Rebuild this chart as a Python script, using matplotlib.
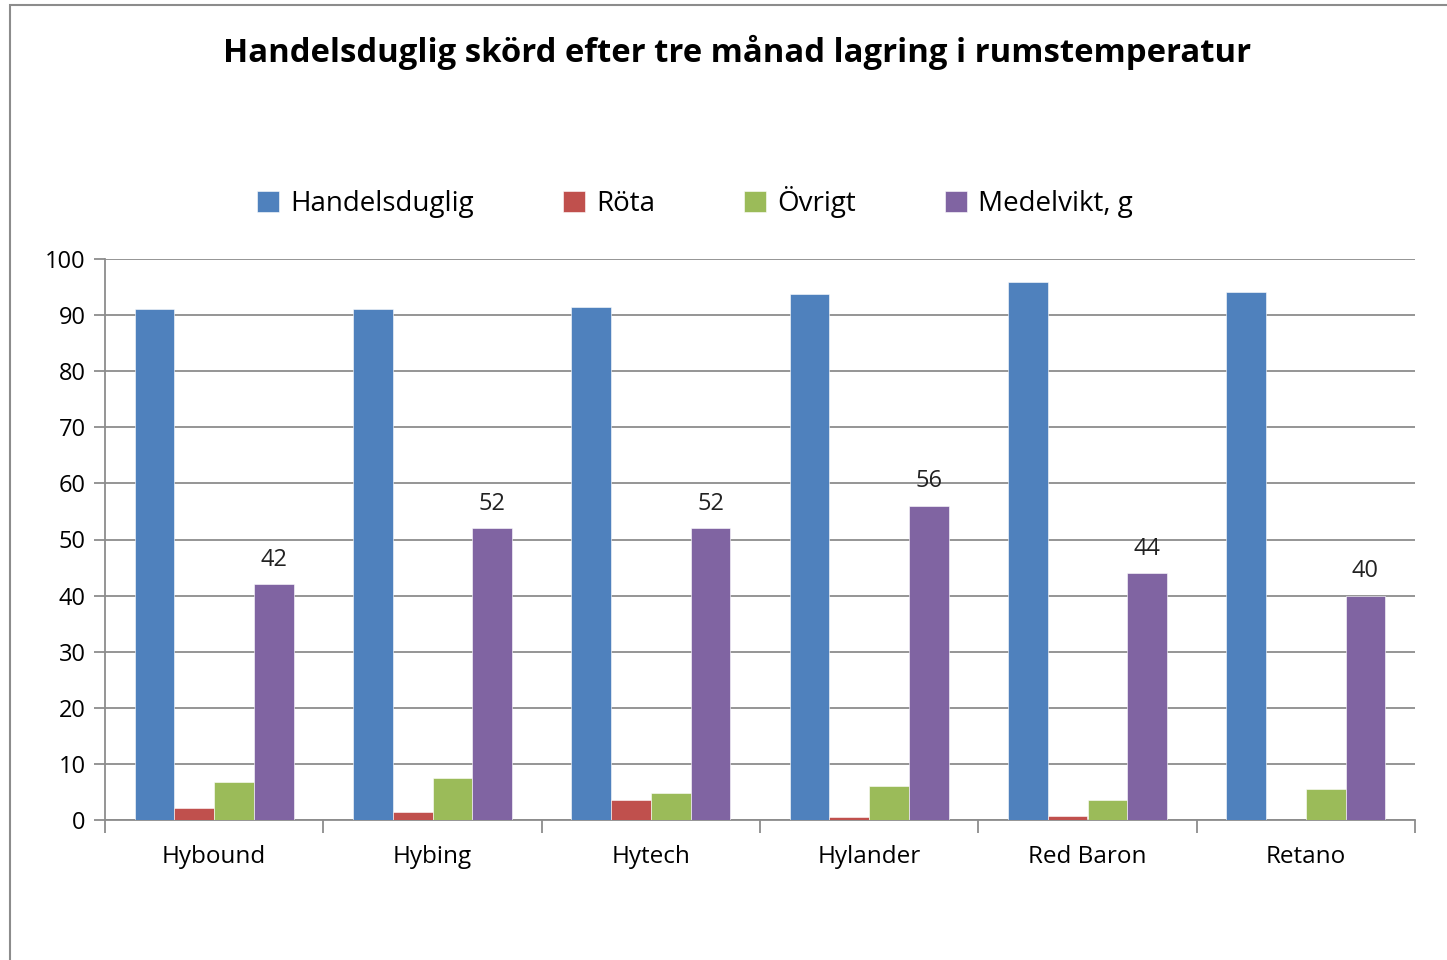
import matplotlib
matplotlib.use("Agg")
import matplotlib.pyplot as plt
import numpy as np
from matplotlib.patches import Rectangle

categories = ["Hybound", "Hybing", "Hytech", "Hylander", "Red Baron", "Retano"]
handelsduglig = [91.0, 91.0, 91.5, 93.8, 95.9, 94.2]
rota = [2.1, 1.4, 3.6, 0.5, 0.7, 0.0]
ovrigt = [6.7, 7.4, 4.8, 6.0, 3.6, 5.5]
medelvikt = [42, 52, 52, 56, 44, 40]
series_names = ["Handelsduglig", "Röta", "Övrigt", "Medelvikt, g"]
colors = ["#4F81BD", "#C0504D", "#9BBB59", "#8064A2"]
title = "Handelsduglig skörd efter tre månad lagring i rumstemperatur"

plt.rcParams['font.family'] = ['Open Sans', 'DejaVu Sans']

fig = plt.figure(figsize=(14.47, 9.6), dpi=100)
W, H = 1447, 960
ax = fig.add_axes([105 / W, 1 - 820 / H, (1415 - 105) / W, (820 - 259) / H])

# outer border
fig.patches.append(Rectangle((10 / W, -0.1), 1.2, 0.1 + (955 / H), transform=fig.transFigure,
                             fill=False, edgecolor="#8c8c8c", linewidth=1.5))

x = np.arange(len(categories))
bw = 0.182
data = [handelsduglig, rota, ovrigt, medelvikt]
bars = []
for i, (vals, name, c) in enumerate(zip(data, series_names, colors)):
    b = ax.bar(x + (i - 1.5) * bw, vals, width=bw, color=c, label=name, zorder=3,
               edgecolor="white", linewidth=0.4)
    bars.append(b)

for rect, v in zip(bars[3], medelvikt):
    ax.text(rect.get_x() + rect.get_width() / 2, v + 2.2, f"{v}", ha="center", va="bottom",
            fontsize=17, color="#222222")

ax.set_xlim(-0.5, len(categories) - 0.5)
ax.set_ylim(0, 100)
ax.set_yticks(np.arange(0, 101, 10))
ax.yaxis.grid(True, color="#8c8c8c", linewidth=1.3, zorder=0)
ax.set_axisbelow(True)

ax.set_xticks(np.arange(-0.5, len(categories), 1.0))
ax.set_xticklabels([])
ax.set_xticks(x, minor=True)
ax.set_xticklabels(categories, minor=True, fontsize=17.5)
ax.tick_params(axis="x", which="minor", length=0, pad=18)
ax.tick_params(axis="x", which="major", length=9, color="#8c8c8c", width=1.3)
ax.tick_params(axis="y", length=8, color="#8c8c8c", width=1.3, labelsize=17, pad=6)

for s in ["top", "right"]:
    ax.spines[s].set_visible(False)
for s in ["left", "bottom"]:
    ax.spines[s].set_color("#8c8c8c")
    ax.spines[s].set_linewidth(1.3)

fig.text(737 / W, 1 - 52 / H, title, ha="center", va="center", fontsize=23.7, fontweight="bold")

fig.legend(handles=bars, labels=series_names, loc="center", bbox_to_anchor=(695 / W, 1 - 202 / H),
           ncol=4, frameon=False, fontsize=20, handlelength=0.8, handleheight=0.8,
           columnspacing=3.2, handletextpad=0.4)

fig.savefig("out.png", dpi=100)
